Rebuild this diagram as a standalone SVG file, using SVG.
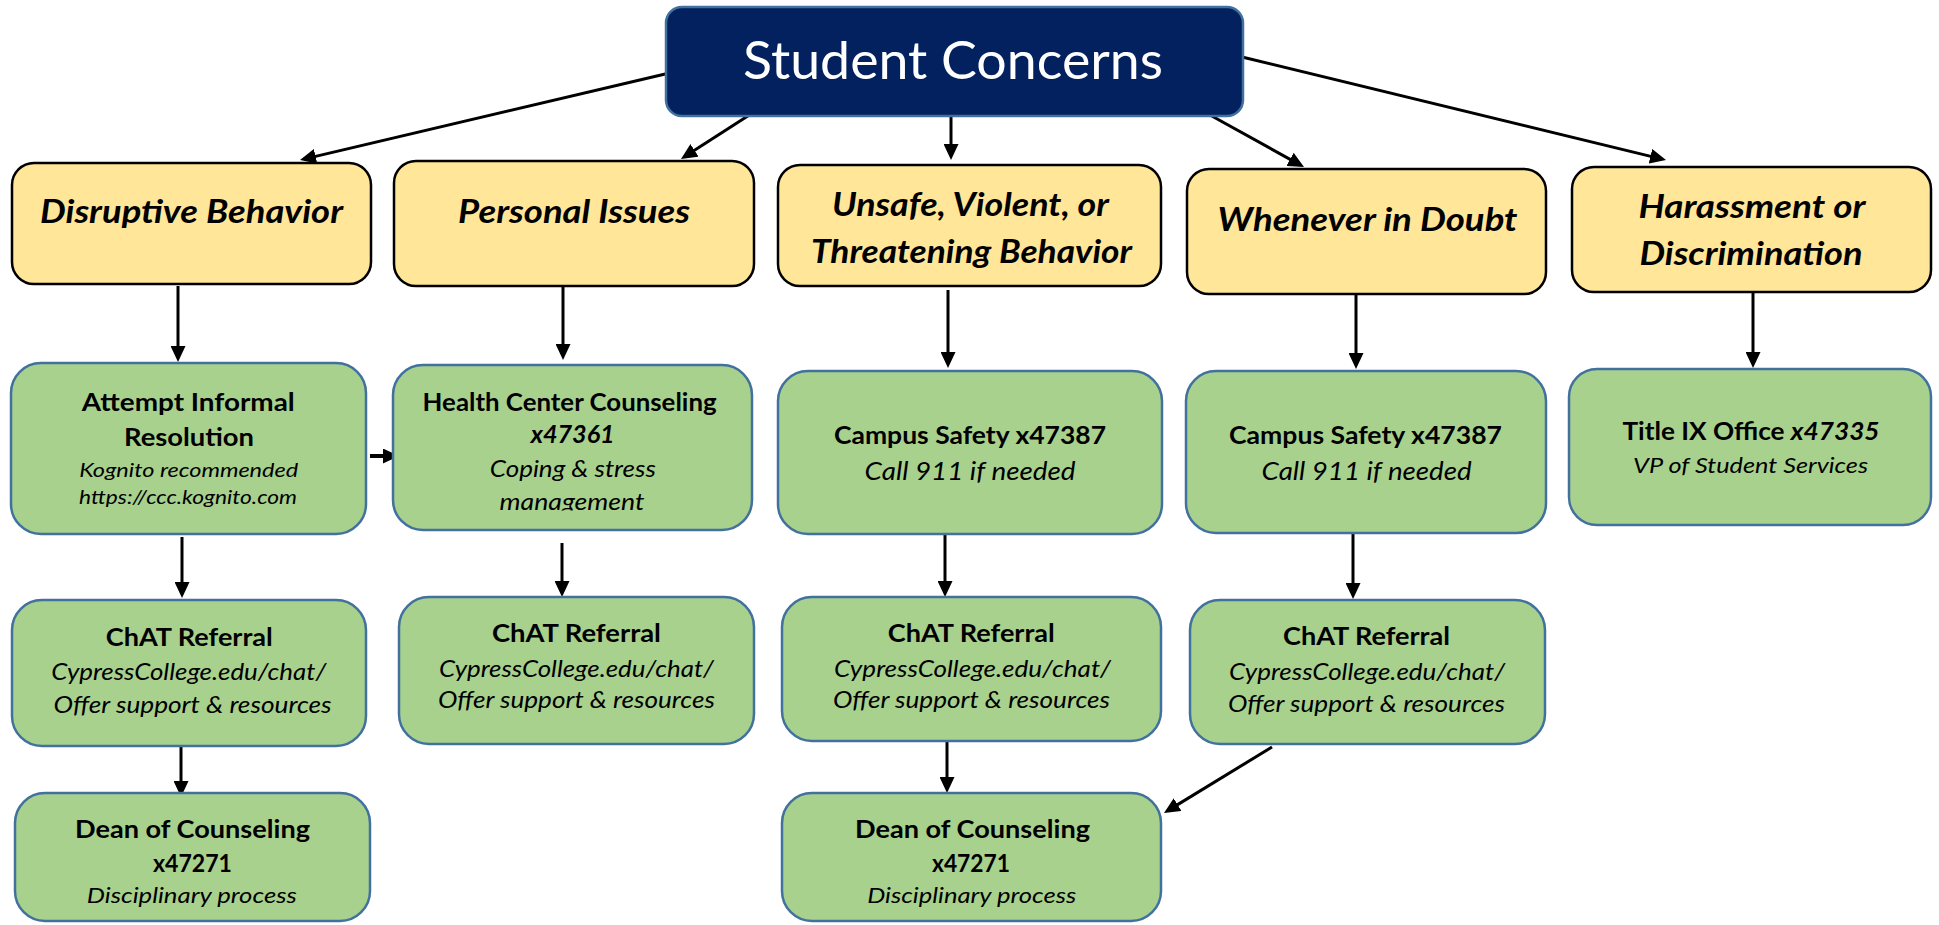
<svg xmlns="http://www.w3.org/2000/svg" width="1939" height="925" viewBox="0 0 1939 925">
<defs>
<marker id="ah" markerUnits="userSpaceOnUse" markerWidth="17" markerHeight="15" refX="12" refY="7.5" orient="auto">
<path d="M0,0 L16,7.5 L0,15 z" fill="#000"/>
</marker>
<clipPath id="clipH"><rect x="393" y="365" width="359" height="145.5"/></clipPath>
</defs>
<style>
text{font-family:Lato,"Liberation Sans",sans-serif;fill:#000;text-anchor:middle}
.top rect{fill:#03215F;stroke:#41719C;stroke-width:2.5}
.top text{fill:#fff;font-size:52px}
.cat rect{fill:#FFE699;stroke:#000;stroke-width:2.5}
.cat text{font-size:32px;font-weight:700;font-style:italic}
.act rect{fill:#A9D18E;stroke:#41719C;stroke-width:2.5}
.b{font-weight:700;font-size:24.5px}
.i{font-style:italic;font-size:22.5px}
.s{font-style:italic;font-size:19px}
.conn line{stroke:#000;stroke-width:3;marker-end:url(#ah)}
</style>

<g id="connectors" class="conn">
<line x1="678" y1="71" x2="303.9" y2="159.1"/>
<line x1="754" y1="112" x2="684.4" y2="156.8"/>
<line x1="951" y1="116" x2="951" y2="156"/>
<line x1="1210" y1="115" x2="1300.5" y2="165.1"/>
<line x1="1242" y1="57" x2="1662.1" y2="159.1"/>
<line x1="178" y1="286" x2="178" y2="358"/>
<line x1="563" y1="286" x2="563" y2="356"/>
<line x1="948" y1="290" x2="948" y2="364"/>
<line x1="1356" y1="294" x2="1356" y2="365"/>
<line x1="1753" y1="292" x2="1753" y2="364"/>
<line x1="370" y1="456" x2="395" y2="456" style="stroke-width:4"/>
<line x1="182" y1="537" x2="182" y2="594"/>
<line x1="562" y1="543" x2="562" y2="593"/>
<line x1="945" y1="534" x2="945" y2="593"/>
<line x1="1353" y1="534" x2="1353" y2="595"/>
<line x1="181" y1="746" x2="181" y2="793"/>
<line x1="947" y1="741" x2="947" y2="789"/>
<line x1="1272" y1="747" x2="1167.4" y2="810.9"/>
</g>

<g id="student-concerns" class="top">
<rect x="666" y="7" width="577" height="109" rx="16"/>
<text x="953" y="79" textLength="420" lengthAdjust="spacingAndGlyphs">Student Concerns</text>
</g>

<g id="disruptive" class="cat">
<rect x="12" y="163" width="359" height="121" rx="22"/>
<text x="191.5" y="223" textLength="303" lengthAdjust="spacingAndGlyphs">Disruptive Behavior</text>
</g>
<g id="personal" class="cat">
<rect x="394" y="161" width="360" height="125" rx="22"/>
<text x="574" y="223" textLength="232" lengthAdjust="spacingAndGlyphs">Personal Issues</text>
</g>
<g id="unsafe" class="cat">
<rect x="778" y="165" width="383" height="121" rx="22"/>
<text x="970.5" y="216" textLength="277" lengthAdjust="spacingAndGlyphs">Unsafe, Violent, or</text>
<text x="971.5" y="263" textLength="321" lengthAdjust="spacingAndGlyphs">Threatening Behavior</text>
</g>
<g id="doubt" class="cat">
<rect x="1187" y="169" width="359" height="125" rx="22"/>
<text x="1367.5" y="231" textLength="300" lengthAdjust="spacingAndGlyphs">Whenever in Doubt</text>
</g>
<g id="harassment" class="cat">
<rect x="1572" y="167" width="359" height="125" rx="22"/>
<text x="1752" y="218" textLength="227" lengthAdjust="spacingAndGlyphs">Harassment or</text>
<text x="1751" y="265" textLength="223" lengthAdjust="spacingAndGlyphs">Discrimination</text>
</g>

<g id="informal" class="act">
<rect x="11" y="363" width="355" height="171" rx="30"/>
<text class="b" x="188.3" y="411" textLength="213" lengthAdjust="spacingAndGlyphs">Attempt Informal</text>
<text class="b" x="189" y="446" textLength="130" lengthAdjust="spacingAndGlyphs">Resolution</text>
<text class="s" x="188.7" y="477" textLength="219" lengthAdjust="spacingAndGlyphs">Kognito recommended</text>
<text class="s" x="188" y="504" textLength="218" lengthAdjust="spacingAndGlyphs">https://ccc.kognito.com</text>
</g>
<g id="health" class="act">
<rect x="393" y="365" width="359" height="165" rx="30"/>
<text class="b" x="569.6" y="411" textLength="294" lengthAdjust="spacingAndGlyphs">Health Center Counseling</text>
<text class="b" x="572.7" y="443" style="font-style:italic" textLength="84" lengthAdjust="spacingAndGlyphs">x47361</text>
<text class="i" x="572.8" y="477" textLength="166" lengthAdjust="spacingAndGlyphs">Coping &amp; stress</text>
<text class="i" x="572" y="510" textLength="145" lengthAdjust="spacingAndGlyphs" clip-path="url(#clipH)">management</text>
</g>
<g id="safety1" class="act">
<rect x="778" y="371" width="384" height="163" rx="30"/>
<text class="b" x="970" y="444" textLength="272" lengthAdjust="spacingAndGlyphs">Campus Safety x47387</text>
<text class="i" x="970" y="480" style="font-size:24.5px" textLength="211" lengthAdjust="spacingAndGlyphs">Call 911 if needed</text>
</g>
<g id="safety2" class="act">
<rect x="1186" y="371" width="360" height="162" rx="30"/>
<text class="b" x="1365.5" y="444" textLength="273" lengthAdjust="spacingAndGlyphs">Campus Safety x47387</text>
<text class="i" x="1366.6" y="480" style="font-size:24.5px" textLength="210" lengthAdjust="spacingAndGlyphs">Call 911 if needed</text>
</g>
<g id="titleix" class="act">
<rect x="1569" y="369" width="362" height="156" rx="28"/>
<text class="b" x="1751" y="440" textLength="257" lengthAdjust="spacingAndGlyphs">Title IX Office <tspan style="font-style:italic">x47335</tspan></text>
<text class="i" x="1750.5" y="473" style="font-size:21px" textLength="235" lengthAdjust="spacingAndGlyphs">VP of Student Services</text>
</g>

<g id="chat1" class="act">
<rect x="12" y="600" width="354" height="146" rx="30"/>
<text class="b" x="189.3" y="646" textLength="167" lengthAdjust="spacingAndGlyphs">ChAT Referral</text>
<text class="i" x="188.7" y="680" textLength="275" lengthAdjust="spacingAndGlyphs">CypressCollege.edu/chat/</text>
<text class="i" x="192.6" y="713" textLength="278" lengthAdjust="spacingAndGlyphs">Offer support &amp; resources</text>
</g>
<g id="chat2" class="act">
<rect x="399" y="597" width="355" height="147" rx="30"/>
<text class="b" x="576.4" y="642" textLength="169" lengthAdjust="spacingAndGlyphs">ChAT Referral</text>
<text class="i" x="576.4" y="677" textLength="275" lengthAdjust="spacingAndGlyphs">CypressCollege.edu/chat/</text>
<text class="i" x="576.4" y="708" textLength="277" lengthAdjust="spacingAndGlyphs">Offer support &amp; resources</text>
</g>
<g id="chat3" class="act">
<rect x="782" y="597" width="379" height="144" rx="30"/>
<text class="b" x="971.3" y="642" textLength="167" lengthAdjust="spacingAndGlyphs">ChAT Referral</text>
<text class="i" x="972.5" y="677" textLength="277" lengthAdjust="spacingAndGlyphs">CypressCollege.edu/chat/</text>
<text class="i" x="971.5" y="708" textLength="277" lengthAdjust="spacingAndGlyphs">Offer support &amp; resources</text>
</g>
<g id="chat4" class="act">
<rect x="1190" y="600" width="355" height="144" rx="30"/>
<text class="b" x="1366.5" y="645" textLength="167" lengthAdjust="spacingAndGlyphs">ChAT Referral</text>
<text class="i" x="1367" y="680" textLength="276" lengthAdjust="spacingAndGlyphs">CypressCollege.edu/chat/</text>
<text class="i" x="1366.5" y="712" textLength="277" lengthAdjust="spacingAndGlyphs">Offer support &amp; resources</text>
</g>

<g id="dean1" class="act">
<rect x="15" y="793" width="355" height="128" rx="30"/>
<text class="b" x="192.5" y="838" textLength="235" lengthAdjust="spacingAndGlyphs">Dean of Counseling</text>
<text class="b" x="192.5" y="872" textLength="79" lengthAdjust="spacingAndGlyphs">x47271</text>
<text class="i" x="191.8" y="903" style="font-size:21.5px" textLength="210" lengthAdjust="spacingAndGlyphs">Disciplinary process</text>
</g>
<g id="dean2" class="act">
<rect x="782" y="793" width="379" height="128" rx="30"/>
<text class="b" x="972.5" y="838" textLength="235" lengthAdjust="spacingAndGlyphs">Dean of Counseling</text>
<text class="b" x="971" y="872" textLength="78" lengthAdjust="spacingAndGlyphs">x47271</text>
<text class="i" x="971.7" y="903" style="font-size:21.5px" textLength="209" lengthAdjust="spacingAndGlyphs">Disciplinary process</text>
</g>
</svg>
